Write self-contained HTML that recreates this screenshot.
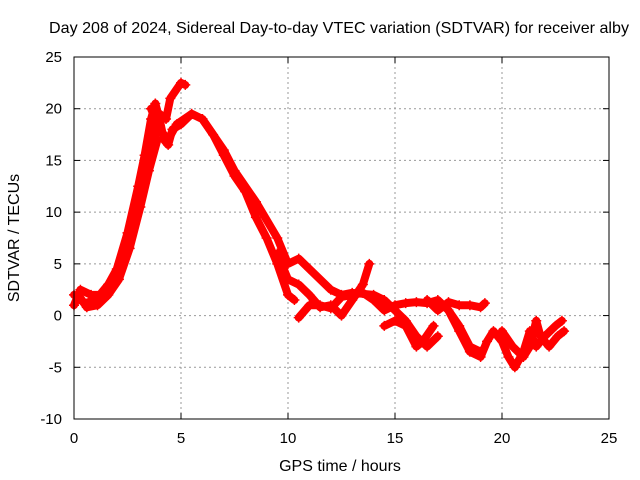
<!DOCTYPE html>
<html><head><meta charset="utf-8"><style>
body{margin:0;background:#fff}
svg{display:block;font-family:"Liberation Sans",sans-serif}
</style></head><body>
<svg id="c" width="640" height="480">
<text x="339" y="33" text-anchor="middle" font-size="16" textLength="580" lengthAdjust="spacingAndGlyphs">Day 208 of 2024, Sidereal Day-to-day VTEC variation (SDTVAR) for receiver alby</text>
<text x="340" y="471" text-anchor="middle" font-size="16">GPS time / hours</text>
<text transform="translate(19,238) rotate(-90)" text-anchor="middle" font-size="16">SDTVAR / TECUs</text>
<g id="grid"></g><g id="series"></g>
<rect x="74" y="57" width="535" height="362" fill="none" stroke="#000"/>
</svg>
<script>
const xTicks=[0,5,10,15,20,25];
const yTicks=[-10,-5,0,5,10,15,20,25];
const s1=[[0,1],[0.3,2.5],[0.8,2],[1.2,2],[1.6,3],[2,4.5],[2.5,8],[3,12.5],[3.3,15.5],[3.6,19],[3.8,20.5],[4,19],[4.2,17],[4.4,16.5],[4.6,18],[5,18.5],[5.5,19.5],[6,19],[6.5,17.5],[7,15.5],[7.5,13.5],[8,12],[8.5,9.5],[9,7.5],[9.5,5],[10,2],[10.3,1.5]];
const s2=[[0,2],[0.5,1.2],[1,1.5],[1.5,2.5],[2,4],[2.5,7],[3,11],[3.5,15],[3.8,17.5],[4,19.5],[4.3,19],[4.5,21],[5,22.5],[5.2,22.3]];
const s3=[[3.6,20],[4,18],[4.4,17],[4.8,18.5],[5.5,19.5],[6,19],[7,16],[7.5,14],[8.5,11],[9.5,7.5],[10,5],[10.5,5.5],[11,4.5],[12,2.5],[12.5,2],[13,2.2],[14,2],[14.5,1.5],[15,0.5],[15.5,-0.5],[16,-2],[16.5,-3],[17,-2]];
const s4=[[9.5,6],[10,3.5],[10.5,3],[11,2],[11.5,0.8],[12,1],[12.5,0],[13,1.5],[13.5,3],[13.8,5]];
const s5=[[10.5,-0.2],[11,1],[11.5,1],[12,0.7],[12.5,1.8],[13,2],[13.5,2.2],[14,1.5],[14.5,0.5],[15,1],[15.5,1.2],[16,1.3],[16.5,1.2],[17,1.5],[17.5,0.5],[18,-1],[18.5,-3],[19,-3.5]];
const s6=[[14.5,-1],[15,-0.5],[15.5,-1],[16,-3],[16.3,-2.5],[16.8,-1]];
const s7=[[16.5,1.5],[17,0.5],[17.5,1.3],[18,1],[18.5,1],[19,0.8],[19.2,1.2]];
const s8=[[17.5,0.5],[18,-1.5],[18.5,-3.5],[19,-4],[19.3,-2.5],[19.6,-1.5],[20,-2.5],[20.3,-4],[20.6,-5],[21,-3.5],[21.3,-1.5],[21.6,-3],[22,-2],[22.5,-1],[22.8,-0.5]];
const s9=[[20,-1.5],[20.5,-3],[21,-4],[21.3,-3],[21.6,-0.5],[21.8,-2],[22.2,-3],[22.6,-2],[22.9,-1.5]];
const s10=[[0.2,2],[0.6,0.8],[1.1,1],[1.6,2],[2.1,3.5],[2.6,6.5],[3.1,10.5],[3.5,14],[3.9,17]];
const seriesList=[s1,s2,s3,s4,s5,s6,s7,s8,s9,s10];
const X=h=>74+h*535/25, Y=v=>419-(v+10)*362/35;
const NS="http://www.w3.org/2000/svg";
const svg=document.getElementById('c'),grid=document.getElementById('grid'),ser=document.getElementById('series');
function mk(t,a,p){const e=document.createElementNS(NS,t);for(const k in a)e.setAttribute(k,a[k]);p.appendChild(e);return e;}
xTicks.forEach(t=>{const x=X(t);
 if(t>0&&t<25){const g=mk('line',{x1:x,x2:x,y1:57,y2:419,stroke:'#999','stroke-dasharray':'2,3'},grid);}
 mk('line',{x1:x,x2:x,y1:419,y2:413,stroke:'#000'},grid);mk('line',{x1:x,x2:x,y1:57,y2:63,stroke:'#000'},grid);
 const l=mk('text',{x:x,y:443,'text-anchor':'middle','font-size':15},svg);l.textContent=t;
 
 });
yTicks.forEach(t=>{const y=Y(t);
 if(t>-10&&t<25){const g=mk('line',{x1:74,x2:609,y1:y,y2:y,stroke:'#999','stroke-dasharray':'2,3'},grid);}
 mk('line',{x1:74,x2:80,y1:y,y2:y,stroke:'#000'},grid);mk('line',{x1:609,x2:603,y1:y,y2:y,stroke:'#000'},grid);
 const l=mk('text',{x:62,y:y+5,'text-anchor':'end','font-size':15},svg);l.textContent=t;
 
 });
seriesList.forEach((s,i)=>{
 const p=mk('polyline',{points:s.map(d=>X(d[0])+','+Y(d[1])).join(' '),fill:'none',stroke:'#f00','stroke-width':8,'stroke-linejoin':'round','stroke-linecap':'round'},ser);
 
 
 s.forEach(d=>{const x=X(d[0]),y=Y(d[1]);
  const m=mk('path',{d:`M${x-5},${y}H${x+5}M${x},${y-5}V${y+5}`,stroke:'#f00','stroke-width':1.5},ser);
  
  });
});
</script>
</body></html>
